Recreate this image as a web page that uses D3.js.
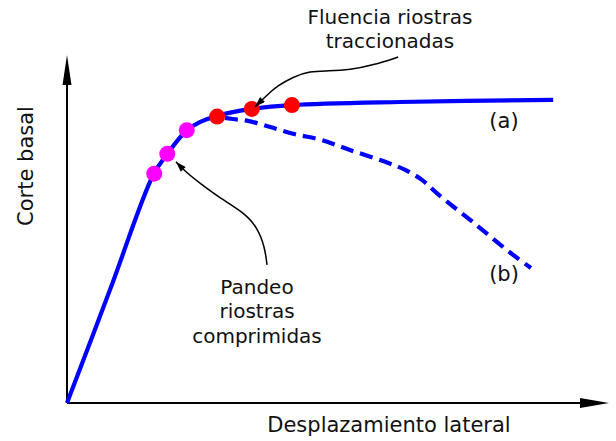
<!DOCTYPE html>
<html>
<head>
<meta charset="utf-8">
<script src="https://cdn.jsdelivr.net/npm/d3@7"></script>
<style>
  body { margin: 0; background: #fff; }
  text { font-family: "DejaVu Sans", Verdana, sans-serif; fill: #111; }
</style>
</head>
<body>
<svg id="svg" width="616" height="441"></svg>
<script>
// curve (a): ductile response, displacement vs base shear (arbitrary units 0..100)
var curveA = [[0,0],[8,32.8],[15.9,65.5],[18.5,71.6],[22,78.2],[24.5,80.7],[27.7,82.5],
              [34.1,84.5],[41.5,85.6],[61.4,86.5],[89.7,87.1]]
// curve (b): degrading response after the peak
var curveB = [[27.7,82.2],[30.6,81.6],[33.6,81.0],[37.5,79.3],[41.9,77.3],[46.9,75.6],
              [52.2,72.7],[58.7,69.3],[62.4,67.0],[65.5,64.1],[68.6,59.8],[75.1,51.7],
              [81.6,43.4],[85.6,38.8]]
// buckling of compressed braces (magenta) and yielding of tension braces (red)
var pandeoPts = [[16.1,65.9],[18.5,71.6],[22.1,78.4]]
var fluenciaPts = [[27.7,82.3],[34.1,84.5],[41.5,85.6]]

// annotation leader curves
var fluenciaArrow = [[61.1,99.4],[56.5,97.1],[52.2,95.7],[48.2,95.4],[44.8,95.4],
                     [41.7,93.7],[38.8,91.1],[36.9,88.5],[34.7,85.1]]
var pandeoArrow = [[36.9,39.7],[36.5,44.8],[35.1,50.6],[32.5,54.9],[28.2,58.9],
                   [24.5,63.2],[22.1,66.1],[20.1,69.3]]

function main(){
  const svg = d3.select("#svg")

  var x = d3.scaleLinear().domain([0,100]).range([67,609])
  var y = d3.scaleLinear().domain([0,100]).range([403,55])

  var defs = svg.append("defs")
  defs.append("marker").attr("id","ah")
    .attr("viewBox","0 0 12 8").attr("refX",12).attr("refY",4)
    .attr("markerWidth",13).attr("markerHeight",7).attr("markerUnits","userSpaceOnUse")
    .attr("orient","auto")
    .append("path").attr("d","M0,0L12,4L0,8Z").attr("fill","#000")

  // axes (no ticks, just arrows)
  var x0 = x(0), y0 = y(0), xe = x(100), ye = y(100)
  svg.append("line").attr("x1",x0).attr("y1",y0).attr("x2",x0).attr("y2",ye+20)
    .attr("stroke","#000").attr("stroke-width",2)
  svg.append("line").attr("x1",x0).attr("y1",y0).attr("x2",xe-20).attr("y2",y0)
    .attr("stroke","#000").attr("stroke-width",2)
  svg.append("path").attr("d",`M${x0},${ye}L${x0-4.5},${ye+30}L${x0+4.5},${ye+30}Z`).attr("fill","#000")
  svg.append("path").attr("d",`M${xe},${y0}L${xe-29},${y0-5}L${xe-29},${y0+5}Z`).attr("fill","#000")

  var line = d3.line().x(d => x(d[0])).y(d => y(d[1])).curve(d3.curveCatmullRom.alpha(0.5))

  svg.append("path").datum(curveB).attr("d",line)
    .attr("fill","none").attr("stroke","#0000ff").attr("stroke-width",4.2)
    .attr("stroke-dasharray","13,7").attr("stroke-dashoffset",-8)
  svg.append("path").datum(curveA).attr("d",line)
    .attr("fill","none").attr("stroke","#0000ff").attr("stroke-width",4.2)

  svg.selectAll(".pandeo").data(pandeoPts).enter().append("circle")
    .attr("class","pandeo").attr("cx",d => x(d[0])).attr("cy",d => y(d[1])).attr("r",8)
    .attr("fill","#ff00ff")
  svg.selectAll(".fluencia").data(fluenciaPts).enter().append("circle")
    .attr("class","fluencia").attr("cx",d => x(d[0])).attr("cy",d => y(d[1])).attr("r",8)
    .attr("fill","#ff0000")

  var leader = d3.line().x(d => x(d[0])).y(d => y(d[1])).curve(d3.curveBasis)
  svg.append("path").datum(fluenciaArrow).attr("d",leader)
    .attr("fill","none").attr("stroke","#000").attr("stroke-width",1.5).attr("marker-end","url(#ah)")
  svg.append("path").datum(pandeoArrow).attr("d",leader)
    .attr("fill","none").attr("stroke","#000").attr("stroke-width",1.5).attr("marker-end","url(#ah)")

  // labels
  function label(txt, px, py, size){
    svg.append("text").attr("x",px).attr("y",py).attr("text-anchor","middle")
      .style("font-size",size+"px").text(txt)
  }
  label("Fluencia riostras", 390, 24, 20)
  label("traccionadas", 390, 48, 20)
  label("Pandeo", 257, 294, 20)
  label("riostras", 257, 318, 20)
  label("comprimidas", 257, 343, 20)
  label("(a)", 504, 128, 21)
  label("(b)", 504, 281, 21)
  label("Desplazamiento lateral", 389, 432, 21)
  svg.append("text").attr("transform","translate(33,166) rotate(-90)")
    .attr("text-anchor","middle").style("font-size","21px").text("Corte basal")
}
main()
</script>
</body>
</html>
